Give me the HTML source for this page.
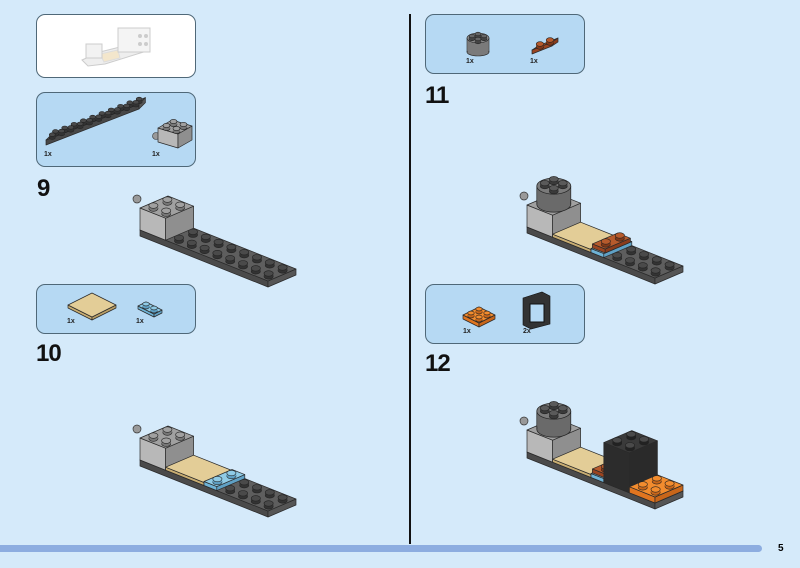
<!DOCTYPE html>
<html><head><meta charset="utf-8"><style>
html,body{margin:0;padding:0;background:#d5eafa;width:800px;height:568px;overflow:hidden;font-family:"Liberation Sans",sans-serif}
.box{position:absolute;border:1.3px solid #4f6878;border-radius:9px;background:#b6d9f3;box-sizing:border-box}
.n{position:absolute;font-weight:bold;font-size:24px;color:#111;letter-spacing:-1px}
.q{position:absolute;font-size:7px;font-weight:bold;color:#222}
</style></head><body>
<div class="box" style="left:36px;top:14px;width:160px;height:64px;background:#fff"></div>
<div class="box" style="left:36px;top:92px;width:160px;height:75px"></div>
<div class="box" style="left:36px;top:284px;width:160px;height:50px"></div>
<div class="box" style="left:425px;top:14px;width:160px;height:60px"></div>
<div class="box" style="left:425px;top:284px;width:160px;height:60px"></div>
<div class="n" style="left:37px;top:175px">9</div>
<div class="n" style="left:36px;top:340px">10</div>
<div class="n" style="left:425px;top:82px">11</div>
<div class="n" style="left:425px;top:350px">12</div>
<div class="q" style="left:44px;top:151px">1x</div><div class="q" style="left:152px;top:151px">1x</div>
<div class="q" style="left:67px;top:318px">1x</div><div class="q" style="left:136px;top:318px">1x</div>
<div class="q" style="left:466px;top:58px">1x</div><div class="q" style="left:530px;top:58px">1x</div>
<div class="q" style="left:463px;top:328px">1x</div><div class="q" style="left:523px;top:328px">2x</div>
<div style="position:absolute;left:409px;top:14px;width:1.5px;height:530px;background:#111"></div>
<div style="position:absolute;left:0;top:545px;width:762px;height:7px;background:#8dade0;border-radius:0 4px 4px 0"></div>
<div style="position:absolute;left:778px;top:543px;font-size:10px;font-weight:bold">5</div>
<svg id="s" width="800" height="568" style="position:absolute;left:0;top:0"></svg>
<script>
const S=document.getElementById('s'),NS='http://www.w3.org/2000/svg';
function el(t,a){const e=document.createElementNS(NS,t);for(const k in a)e.setAttribute(k,a[k]);S.appendChild(e);return e}
function poly(p,f,st){el('polygon',{points:p.map(q=>q.join(',')).join(' '),fill:f,stroke:st||'#2a2a2a','stroke-width':0.7,'stroke-linejoin':'round'})}
function stud(x,y,c,d,r){r=r||5;el('ellipse',{cx:x,cy:y+1,rx:r,ry:r*0.6,fill:d,stroke:'#222','stroke-width':0.6});el('rect',{x:x-r,y:y-2,width:2*r,height:3,fill:d});el('ellipse',{cx:x,cy:y-2,rx:r,ry:r*0.6,fill:c,stroke:'#222','stroke-width':0.6})}
function box(px,py,nL,nW,h,L,W,ct,cf,cs,sc,sd,r){
 const a=[px,py],b=[px+nL*L[0],py+nL*L[1]],c=[b[0]+nW*W[0],b[1]+nW*W[1]],d=[px+nW*W[0],py+nW*W[1]];
 poly([a,b,[b[0],b[1]+h],[a[0],a[1]+h]],cf);poly([b,c,[c[0],c[1]+h],[b[0],b[1]+h]],cs);poly([a,b,c,d],ct);
 if(sc){let s=[];for(let i=0;i<nL;i++)for(let j=0;j<nW;j++)s.push([px+(i+.5)*L[0]+(j+.5)*W[0],py+(i+.5)*L[1]+(j+.5)*W[1]]);s.sort((u,v)=>u[1]-v[1]);s.forEach(q=>stud(q[0],q[1],sc,sd,r))}}
const L=[12.8,5.1],W=[14,-6];
function at(ox,oy,i,j,dy){return[ox+140+i*L[0]+j*W[0],oy+230+i*L[1]+j*W[1]-dy]}
function model(ox,oy,st){
 el('circle',{cx:ox+137,cy:oy+199,r:4,fill:'#999',stroke:'#333','stroke-width':0.7});
 let p=at(ox,oy,0,0,0);box(p[0],p[1],10,2,6,L,W,'#5e5e5e','#4a4a4a','#555',st>=10?null:'#4a4a4a','#333',4.6);
 if(st>=10){for(let i=(st>=12?8:6);i<10;i++)for(let j=1;j>=0;j--){let q=at(ox,oy,i+.5,j+.5,0);stud(q[0],q[1],'#4a4a4a','#333',4.6)}}
 p=at(ox,oy,0,0,22);box(p[0],p[1],2,2,22,L,W,'#a0a0a0','#b8b8b8','#8f8f8f',st>=11?null:'#a0a0a0','#777',4.6);
 if(st>=10){p=at(ox,oy,2,0,3);box(p[0],p[1],3,2,3,L,W,'#e3cd97','#c8ad72','#b89e66');
  p=at(ox,oy,5,0,4);box(p[0],p[1],1,2,4,L,W,'#8fcbe6','#6fb3d6','#5fa0c4',st>=11?null:'#8fcbe6','#5fa0c4',4.6)}
 if(st>=11){let c=at(ox,oy,1,1,22);el('rect',{x:c[0]-17,y:c[1]-18,width:34,height:18,fill:'#6a6a6a',stroke:'#222','stroke-width':0.7});
  el('ellipse',{cx:c[0],cy:c[1],rx:17,ry:8,fill:'#6a6a6a',stroke:'#222','stroke-width':0.7});
  el('rect',{x:c[0]-16.5,y:c[1]-18,width:33,height:17,fill:'#6a6a6a'});
  el('ellipse',{cx:c[0],cy:c[1]-18,rx:17,ry:8,fill:'#7a7a7a',stroke:'#222','stroke-width':0.7});
  [[0,-23],[-9,-19],[9,-19],[0,-14]].forEach(q=>stud(c[0]+q[0],c[1]+q[1],'#5a5a5a','#3a3a3a',4.5));
  p=at(ox,oy,5,0.1,8);box(p[0],p[1],1,1.8,4,L,W,'#b65a2c','#9a4420','#8a3c1c','#b65a2c','#803818',4.6)}
 if(st>=12){p=at(ox,oy,6,0,40);box(p[0],p[1],2,2,40,L,W,'#3a3a3a','#2c2c2c','#2a2a2a','#4a4a4a','#222',4.6);
  p=at(ox,oy,8,0,6);box(p[0],p[1],2,2,6,L,W,'#f28c2e','#e07520','#c8661a','#f28c2e','#c8661a',4.6)}
}
model(0,0,9);model(0,230,10);model(387,-3,11);model(387,222,12);
// preview (faded)
el('polygon',{points:'82,60 100,52 148,40 150,50 105,64 88,66',fill:'#eee',stroke:'#ccc'});
el('polygon',{points:'100,54 118,50 120,58 104,62',fill:'#f3e6cc',stroke:'#ddd'});
el('rect',{x:86,y:44,width:16,height:14,fill:'#f2f2f2',stroke:'#ccc'});
el('rect',{x:118,y:28,width:32,height:24,fill:'#f4f4f4',stroke:'#ccc'});
[[140,36],[146,36],[140,44],[146,44]].forEach(q=>el('circle',{cx:q[0],cy:q[1],r:2,fill:'#ccc'}));
// parts box 2
box(46,140,10,2,5,[9.3,-3.6],[3.2,-3.2],'#5e5e5e','#474747','#555','#4a4a4a','#333',3);
el('circle',{cx:156,cy:136,r:3.5,fill:'#999',stroke:'#333','stroke-width':0.6});
box(158,128,2,2,14,[10,3],[7,-4],'#a0a0a0','#b8b8b8','#8f8f8f','#a0a0a0','#777',3.5);
// parts box 3
box(68,305,2,3,3,[12,6],[8,-4],'#e3cd97','#c8ad72','#b89e66');
box(138,306,2,1,3,[8,4],[8,-4],'#8fcbe6','#6fb3d6','#5fa0c4','#8fcbe6','#5fa0c4',3.3);
// right box 1
el('rect',{x:467,y:38,width:22,height:14,fill:'#7a7a7a',stroke:'#222','stroke-width':0.6});
el('ellipse',{cx:478,cy:52,rx:11,ry:4,fill:'#7a7a7a',stroke:'#222','stroke-width':0.6});
el('rect',{x:467.3,y:38,width:21.4,height:13,fill:'#7a7a7a'});
el('ellipse',{cx:478,cy:38,rx:11,ry:5,fill:'#8a8a8a',stroke:'#222','stroke-width':0.6});
[[478,36],[472,38],[484,38],[478,41]].forEach(q=>stud(q[0],q[1],'#666','#444',3));
box(532,50,2,1,4,[10,-4],[6,-4],'#b65a2c','#9a4420','#8a3c1c','#b65a2c','#803818',3.8);
// right box 2
box(463,315,2,2,4,[8,4],[8,-4],'#f28c2e','#e07520','#c8661a','#f28c2e','#c8661a',3.2);
el('polygon',{points:'523,298 542,292 550,296 550,324 531,329 523,325',fill:'#333',stroke:'#111','stroke-width':0.6});
el('rect',{x:530,y:304,width:14,height:18,fill:'#b6d9f3',stroke:'#111'});
</script>
</body></html>
